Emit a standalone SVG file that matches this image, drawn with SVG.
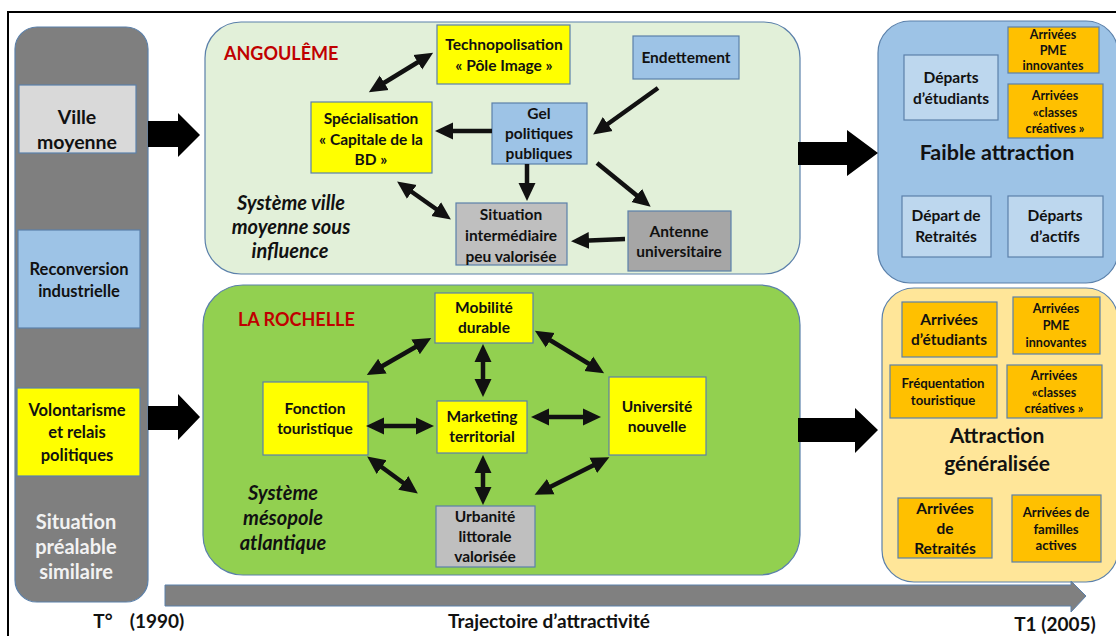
<svg xmlns="http://www.w3.org/2000/svg" width="1116" height="636" viewBox="0 0 1116 636">
<style>
text{font-family:Lato,"Open Sans","Liberation Sans",sans-serif;font-weight:bold;fill:#111;text-anchor:middle}
.bx{stroke:#5b80aa;stroke-width:1.2}
.yl{fill:#ffff00}.bl{fill:#9dc3e6}.lb{fill:#bdd7ee}.or{fill:#ffc000}.g1{fill:#bfbfbf}.g2{fill:#a6a6a6}.g3{fill:#d9d9d9}
.t14{font-size:15.5px}.t11{font-size:12.5px}.t13{font-size:13.2px}
.red{fill:#c00000;text-anchor:start;font-size:18px}
.it{font-style:italic;font-size:20px}
.wt{fill:#f2f2f2;font-size:20px}
.lf{font-size:16.5px}
.ax{font-size:19px}
.ar{stroke:#111;stroke-width:4.5;fill:none;marker-end:url(#ah)}
.da{stroke:#111;stroke-width:4.5;fill:none;marker-end:url(#ah);marker-start:url(#ah)}
.blk{fill:#000}
</style>
<defs>
<marker id="ah" markerUnits="userSpaceOnUse" markerWidth="19" markerHeight="19" viewBox="0 0 19 19" refX="12" refY="9.5" orient="auto-start-reverse"><path d="M0,1 L18,9.5 L0,18 Z" fill="#111"/></marker>
</defs>
<rect width="1116" height="636" fill="#fff"/>
<path d="M8,636 V12 H1116" fill="none" stroke="#000" stroke-width="2"/>

<g id="col-left">
<rect x="15" y="27" width="133" height="575" rx="22" fill="#7f7f7f" stroke="#5b80aa" stroke-width="1.2"/>
<text class="wt" x="76" y="529">Situation</text>
<text class="wt" x="76" y="554">préalable</text>
<text class="wt" x="76" y="579">similaire</text>
</g>
<g id="ville-moyenne">
<rect class="bx g3" x="19" y="85" width="117" height="68"/>
<text x="77" y="124" style="font-size:19.5px">Ville</text>
<text x="77" y="149" style="font-size:19.5px">moyenne</text>
</g>
<g id="reconversion">
<rect class="bx bl" x="18" y="230" width="122" height="98"/>
<text class="lf" x="79" y="275">Reconversion</text>
<text class="lf" x="79" y="297">industrielle</text>
</g>
<g id="volontarisme">
<rect class="bx yl" x="17" y="388" width="123" height="88"/>
<text class="lf" x="77" y="416">Volontarisme</text>
<text class="lf" x="77" y="438">et relais</text>
<text class="lf" x="77" y="461">politiques</text>
</g>

<g id="angouleme">
<rect x="205" y="22" width="595" height="252" rx="36" fill="#e2f0d9" stroke="#5b80aa" stroke-width="1.2"/>
<text class="red" x="224" y="60">ANGOULÊME</text>
<text class="it" x="291" y="210">Système ville</text>
<text class="it" x="291" y="234">moyenne sous</text>
<text class="it" x="290" y="258">influence</text>
</g>
<g id="technopolisation">
<rect class="bx yl" x="437" y="25" width="133" height="59"/>
<text class="t14" x="504" y="50">Technopolisation</text>
<text class="t14" x="504" y="71">« Pôle Image »</text>
</g>
<g id="endettement">
<rect class="bx bl" x="633" y="36" width="106" height="43"/>
<text class="t14" x="686" y="63">Endettement</text>
</g>
<g id="specialisation">
<rect class="bx yl" x="311" y="102" width="121" height="71"/>
<text class="t14" x="371" y="124">Spécialisation</text>
<text class="t14" x="371" y="145">« Capitale de la</text>
<text class="t14" x="371" y="165">BD »</text>
</g>
<g id="gel">
<rect class="bx bl" x="492" y="103" width="95" height="61"/>
<text class="t14" x="539" y="119">Gel</text>
<text class="t14" x="539" y="139">politiques</text>
<text class="t14" x="539" y="159">publiques</text>
</g>
<g id="situation-intermediaire">
<rect class="bx g1" x="456" y="203" width="111" height="62"/>
<text class="t14" x="511" y="220">Situation</text>
<text class="t14" x="511" y="241">intermédiaire</text>
<text class="t14" x="511" y="262">peu valorisée</text>
</g>
<g id="antenne">
<rect class="bx g2" x="628" y="211" width="103" height="60"/>
<text class="t14" x="679" y="237">Antenne</text>
<text class="t14" x="679" y="257">universitaire</text>
</g>

<g id="la-rochelle">
<rect x="203" y="285" width="597" height="290" rx="40" fill="#92d050" stroke="#5b80aa" stroke-width="1.2"/>
<text class="red" x="238" y="326">LA ROCHELLE</text>
<text class="it" x="283" y="500">Système</text>
<text class="it" x="283" y="525">mésopole</text>
<text class="it" x="283" y="550">atlantique</text>
</g>
<g id="mobilite">
<rect class="bx yl" x="435" y="293" width="98" height="50"/>
<text class="t14" x="484" y="313">Mobilité</text>
<text class="t14" x="484" y="333">durable</text>
</g>
<g id="fonction">
<rect class="bx yl" x="263" y="382" width="105" height="73"/>
<text class="t14" x="315" y="414">Fonction</text>
<text class="t14" x="315" y="434">touristique</text>
</g>
<g id="marketing">
<rect class="bx yl" x="437" y="401" width="90" height="52"/>
<text class="t14" x="482" y="422">Marketing</text>
<text class="t14" x="482" y="442">territorial</text>
</g>
<g id="urbanite">
<rect class="bx g1" x="436" y="506" width="99" height="61"/>
<text class="t14" x="485" y="522">Urbanité</text>
<text class="t14" x="485" y="542">littorale</text>
<text class="t14" x="485" y="562">valorisée</text>
</g>
<g id="universite">
<rect class="bx yl" x="609" y="377" width="97" height="78"/>
<text class="t14" x="657" y="412">Université</text>
<text class="t14" x="657" y="432">nouvelle</text>
</g>

<g id="faible-attraction">
<rect x="878" y="21" width="240" height="262" rx="32" fill="#9dc3e6" stroke="#5b80aa" stroke-width="1.2"/>
<text x="997" y="160" style="font-size:21.5px">Faible attraction</text>
</g>
<g id="departs-etudiants">
<rect class="bx lb" x="904" y="55" width="94" height="65"/>
<text class="t14" x="951" y="83">Départs</text>
<text class="t14" x="951" y="104">d’étudiants</text>
</g>
<g id="arrivees-pme-1">
<rect class="bx or" x="1008" y="27" width="91" height="46"/>
<text class="t11" x="1053" y="39">Arrivées</text>
<text class="t11" x="1053" y="55">PME</text>
<text class="t11" x="1053" y="70">innovantes</text>
</g>
<g id="arrivees-classes-1">
<rect class="bx or" x="1008" y="84" width="95" height="54"/>
<text class="t11" x="1055" y="100">Arrivées</text>
<text class="t11" x="1055" y="117">«classes</text>
<text class="t11" x="1055" y="133">créatives »</text>
</g>
<g id="depart-retraites">
<rect class="bx lb" x="902" y="196" width="89" height="61"/>
<text class="t14" x="946" y="221">Départ de</text>
<text class="t14" x="946" y="242">Retraités</text>
</g>
<g id="departs-actifs">
<rect class="bx lb" x="1008" y="196" width="95" height="61"/>
<text class="t14" x="1055" y="221">Départs</text>
<text class="t14" x="1055" y="242">d’actifs</text>
</g>

<g id="attraction-generalisee">
<rect x="882" y="288" width="236" height="294" rx="32" fill="#ffe699" stroke="#5b80aa" stroke-width="1.2"/>
<text x="997" y="443" style="font-size:21px">Attraction</text>
<text x="997" y="471" style="font-size:21px">généralisée</text>
</g>
<g id="arrivees-etudiants">
<rect class="bx or" x="902" y="302" width="95" height="55"/>
<text class="t14" x="949" y="325">Arrivées</text>
<text class="t14" x="949" y="345">d’étudiants</text>
</g>
<g id="arrivees-pme-2">
<rect class="bx or" x="1013" y="297" width="87" height="57"/>
<text class="t11" x="1056" y="313">Arrivées</text>
<text class="t11" x="1056" y="330">PME</text>
<text class="t11" x="1056" y="347">innovantes</text>
</g>
<g id="frequentation">
<rect class="bx or" x="890" y="365" width="107" height="53"/>
<text class="t13" x="943" y="388">Fréquentation</text>
<text class="t13" x="943" y="405">touristique</text>
</g>
<g id="arrivees-classes-2">
<rect class="bx or" x="1007" y="365" width="95" height="53"/>
<text class="t11" x="1054" y="380">Arrivées</text>
<text class="t11" x="1054" y="397">«classes</text>
<text class="t11" x="1054" y="413">créatives »</text>
</g>
<g id="arrivees-retraites">
<rect class="bx or" x="898" y="498" width="94" height="60"/>
<text class="t14" x="945" y="514">Arrivées</text>
<text class="t14" x="945" y="534">de</text>
<text class="t14" x="945" y="554">Retraités</text>
</g>
<g id="arrivees-familles">
<rect class="bx or" x="1012" y="495" width="89" height="67"/>
<text class="t13" x="1056" y="517">Arrivées de</text>
<text class="t13" x="1056" y="534">familles</text>
<text class="t13" x="1056" y="550">actives</text>
</g>

<g id="connectors">
<polygon class="blk" points="148,121 178,121 178,113 200,135 178,157 178,147 148,147"/>
<polygon class="blk" points="148,406 178,406 178,394 200,417 178,440 178,430 148,430"/>
<polygon class="blk" points="798,142 847,142 847,130 878,153 847,176 847,165 798,165"/>
<polygon class="blk" points="798,418 855,418 855,408 878,430 855,453 855,442 798,442"/>
<polygon points="165,585 1071,585 1071,581 1086,596 1071,612 1071,606 165,606" fill="#808080" stroke="#5b80aa" stroke-width="1"/>
<line class="da" x1="374" y1="89" x2="428" y2="56"/>
<line class="ar" x1="492" y1="131" x2="441" y2="131"/>
<line class="ar" x1="658" y1="88" x2="598" y2="131"/>
<line class="ar" x1="527" y1="164" x2="527" y2="195"/>
<line class="ar" x1="597" y1="163" x2="646" y2="203"/>
<line class="ar" x1="625" y1="239" x2="577" y2="241"/>
<line class="da" x1="402" y1="185" x2="446" y2="216"/>
<line class="da" x1="372" y1="372" x2="426" y2="341"/>
<line class="da" x1="483" y1="350" x2="483" y2="391"/>
<line class="da" x1="372" y1="426" x2="428" y2="426"/>
<line class="da" x1="372" y1="460" x2="413" y2="490"/>
<line class="da" x1="483" y1="461" x2="483" y2="499"/>
<line class="da" x1="540" y1="334" x2="599" y2="370"/>
<line class="da" x1="537" y1="417" x2="595" y2="417"/>
<line class="da" x1="540" y1="492" x2="604" y2="460"/>
</g>

<g id="axis-labels">
<text class="ax" x="103" y="628">T°</text>
<text class="ax" x="157" y="628">(1990)</text>
<text class="ax" x="549" y="628">Trajectoire d’attractivité</text>
<text class="ax" x="1055" y="631">T1 (2005)</text>
</g>
</svg>
